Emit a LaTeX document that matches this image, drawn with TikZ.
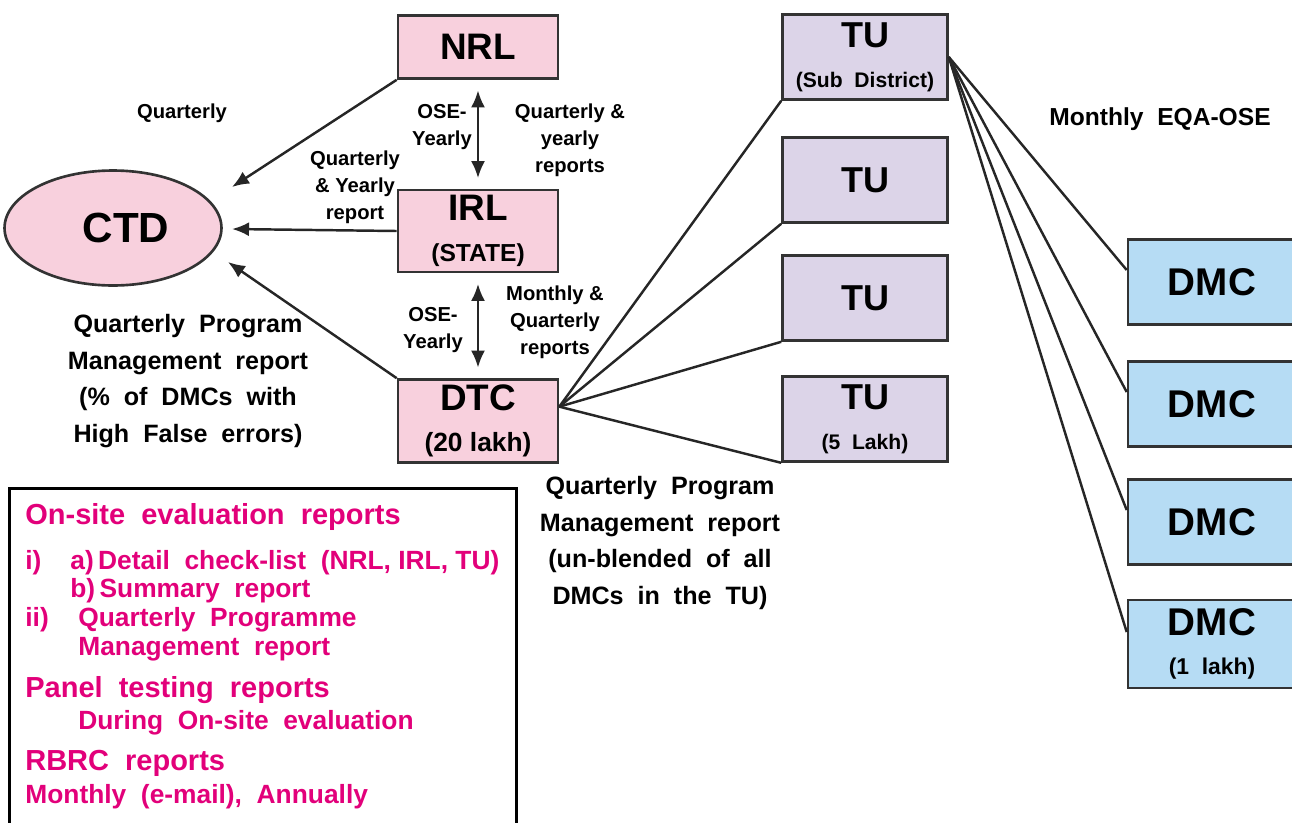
\documentclass[tikz,border=0pt]{standalone}
\usepackage{fontspec}
\setmainfont{Liberation Sans}
\usetikzlibrary{arrows.meta,shapes.geometric}
\definecolor{labpink}{HTML}{F8D0DD}
\definecolor{tulilac}{HTML}{DCD4E8}
\definecolor{dmcblue}{HTML}{B6DCF4}
\definecolor{legmag}{HTML}{E2007A}
\newcommand{\fsz}[2]{\fontsize{#1}{#2}\selectfont}

\begin{document}
\begin{tikzpicture}[x=0.02cm, y=-0.02cm,
    >={Latex[length=3.4mm,width=2.8mm]},
    labbox/.style={draw=black!80, line width=1.5pt, fill=labpink, align=center,
        font=\bfseries\fsz{21}{23}, inner sep=0pt, minimum width=3.2cm},
    tubox/.style={draw=black!80, line width=1.5pt, fill=tulilac, align=center,
        font=\bfseries\fsz{20.5}{23}, inner sep=0pt, minimum width=3.3cm, minimum height=1.7cm},
    dmcbox/.style={draw=black!80, line width=1.5pt, fill=dmcblue, align=center,
        font=\bfseries\fsz{22}{22}, inner sep=0pt, minimum width=3.36cm, minimum height=1.7cm},
    conn/.style={line width=1.4pt, black!85},
    small/.style={align=center, font=\bfseries\fsz{11.5}{15.3}, inner sep=0pt},
    big/.style={align=center, font=\bfseries\fsz{14.3}{21}, inner sep=0pt},
    leg/.style={anchor=west, text=legmag, font=\bfseries\fsz{15}{17}, inner sep=0pt},
    leghead/.style={leg, font=\bfseries\fsz{16.5}{18}}]
    \useasboundingbox (0,0) rectangle (1292,822);
    \clip (0,0) rectangle (1292,822);

    % Laboratories
    \node[labbox, minimum height=1.26cm] (nrl) at (478,47) {NRL};
    \node[labbox, minimum height=1.64cm] (irl) at (478,231) {\rule{0pt}{0.3cm}IRL\\{\fsz{14}{22}(STATE)}};
    \node[labbox, minimum height=1.66cm] (dtc) at (478,421) {\rule{0pt}{0.3cm}DTC\\{\fsz{15}{22}(20 lakh)}};
    \node[draw=black!80, line width=1.5pt, fill=labpink, ellipse, minimum width=4.34cm,
        minimum height=2.3cm, font=\bfseries\fsz{24}{24}] (ctd) at (113,228) {\hspace*{0.52cm}CTD};

    % Tuberculosis units
    \node[tubox] (tu1) at (865,57) {\rule{0pt}{0.3cm}TU\\{\fsz{12}{22}(Sub~~District)}};
    \node[tubox] (tu2) at (865,180) {TU};
    \node[tubox] (tu3) at (865,298) {TU};
    \node[tubox] (tu4) at (865,419) {\rule{0pt}{0.3cm}TU\\{\fsz{12}{22}(5~~Lakh)}};

    % Microscopy centres
    \node[dmcbox] (dmc1) at (1212,282) {DMC};
    \node[dmcbox] (dmc2) at (1212,404) {DMC};
    \node[dmcbox] (dmc3) at (1212,522) {DMC};
    \node[dmcbox, minimum height=1.76cm] (dmc4) at (1212,644) {\rule{0pt}{0.3cm}DMC\\{\fsz{13}{21}(1~~lakh)}};

    % Arrow ends at CTD
    \coordinate (ctdtop) at (232,187);
    \coordinate (ctdmid) at (232,229);
    \coordinate (ctdlow) at (228,262);

    \draw[->, conn] (nrl.south west) -- (ctdtop);
    \draw[->, conn] (irl.west) -- (ctdmid);
    \draw[->, conn] (dtc.north west) -- (ctdlow);
    \draw[<->, conn, shorten <=6pt, shorten >=6pt] (nrl.south) -- (irl.north);
    \draw[<->, conn, shorten <=6pt, shorten >=6pt] (irl.south) -- (dtc.north);

    % DTC to TUs
    \foreach \t in {1,...,4}
        \draw[conn] (dtc.10) -- (tu\t.south west);

    % TU to DMCs
    \foreach \d in {1,...,4}
        \draw[conn] (tu1.east) -- (dmc\d.172);

    % Labels
    \node[small] (lq) at (182,113) {Quarterly};
    \node[small] (lose1) at (442,127) {OSE-\\Yearly};
    \node[small] (lqy1) at (570,140) {Quarterly \&\\yearly\\reports};
    \node[small] (lqy2) at (355,187) {Quarterly\\\& Yearly\\report};
    \node[small] (lose2) at (433,330) {OSE-\\Yearly};
    \node[small] (lmq) at (555,322) {Monthly \&\\Quarterly\\reports};
    \node[big] (lqpm1) at (188,381) {Quarterly~~Program\\Management~~report\\(\%~~of~~DMCs~~with\\High~~False~~errors)};
    \node[big] (lqpm2) at (660,543) {Quarterly~~Program\\Management~~report\\(un-blended~~of~~all\\DMCs~~in~~the~~TU)};
    \node[small, font=\bfseries\fsz{14}{15}] (leqa) at (1160,119) {Monthly~~EQA-OSE};

    % Legend box
    \node[draw, line width=1.5pt, anchor=north west, minimum width=10.14cm,
        minimum height=7.2cm, inner sep=0pt] (legend) at (8,487) {};
    \node[leghead] (lg1) at (25,517) {On-site~~evaluation~~reports};
    \node[leg] (lg2a) at (25,563) {i)};
    \node[leg] (lg2b) at (70,563) {a)\,Detail~~check-list~~(NRL, IRL, TU)};
    \node[leg] (lg3) at (70,591) {b)\,Summary~~report};
    \node[leg] (lg4a) at (25,620) {ii)};
    \node[leg] (lg4b) at (78,620) {Quarterly~~Programme};
    \node[leg] (lg5) at (78,649) {Management~~report};
    \node[leghead] (lg6) at (25,690) {Panel~~testing~~reports};
    \node[leg] (lg7) at (78,723) {During~~On-site~~evaluation};
    \node[leghead] (lg8) at (25,763) {RBRC~~reports};
    \node[leg] (lg9) at (25,797) {Monthly~~(e-mail),~~Annually};
\end{tikzpicture}
\end{document}
